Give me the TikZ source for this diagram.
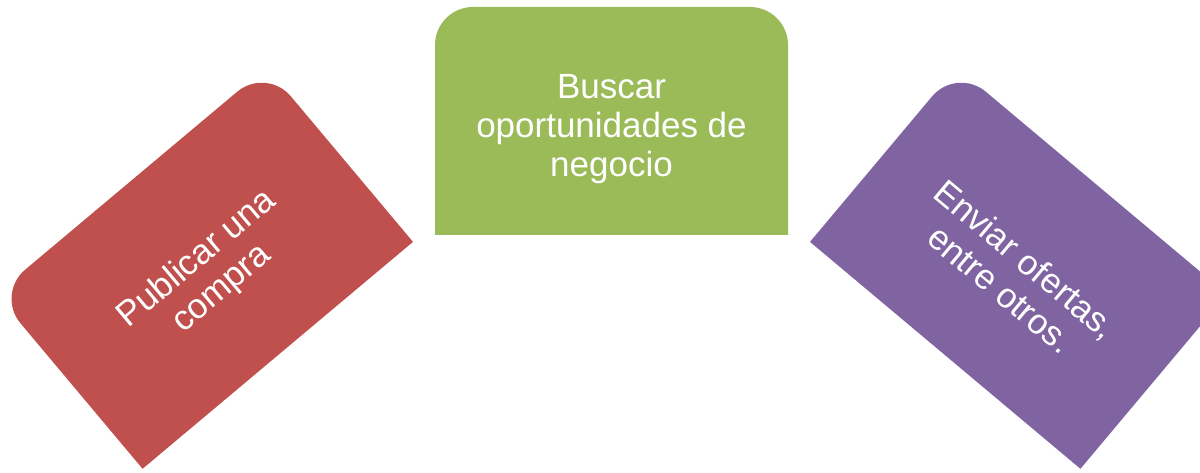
\documentclass[tikz,border=0pt]{standalone}
\usepackage{fontspec}
\setmainfont{Liberation Sans}
\definecolor{tabred}{HTML}{C0504D}
\definecolor{tabgreen}{HTML}{9BBB59}
\definecolor{tabpurple}{HTML}{8064A2}

\begin{document}
\begin{tikzpicture}[x=1pt,y=1pt,
    tab/.pic={\fill (-176.5,-114) -- (-176.5,76) arc[start angle=180,end angle=90,radius=38]
        -- (138.5,114) arc[start angle=90,end angle=0,radius=38] -- (176.5,-114) -- cycle;},
    boxtext/.style={text=white,align=center,inner sep=0pt,font=\fontsize{35}{39}\selectfont}]
    \clip (0,0) rectangle (1200,472);
    % the three tabs
    \pic[fill=tabred,rotate=40] at (204.5,204) {tab};
    \pic[fill=tabgreen] at (611.5,351) {tab};
    \pic[fill=tabpurple,rotate=-40] at (1018.5,204) {tab};

    \node[boxtext,rotate=40] (publicar) at (209.6,197.9) {Publicar una\\compra};
    \node[boxtext] (buscar) at (611.5,343) {Buscar\\oportunidades de\\negocio};
    \node[boxtext,rotate=-40] (enviar) at (1013.4,197.9) {Enviar ofertas,\\entre otros.};
\end{tikzpicture}
\end{document}
